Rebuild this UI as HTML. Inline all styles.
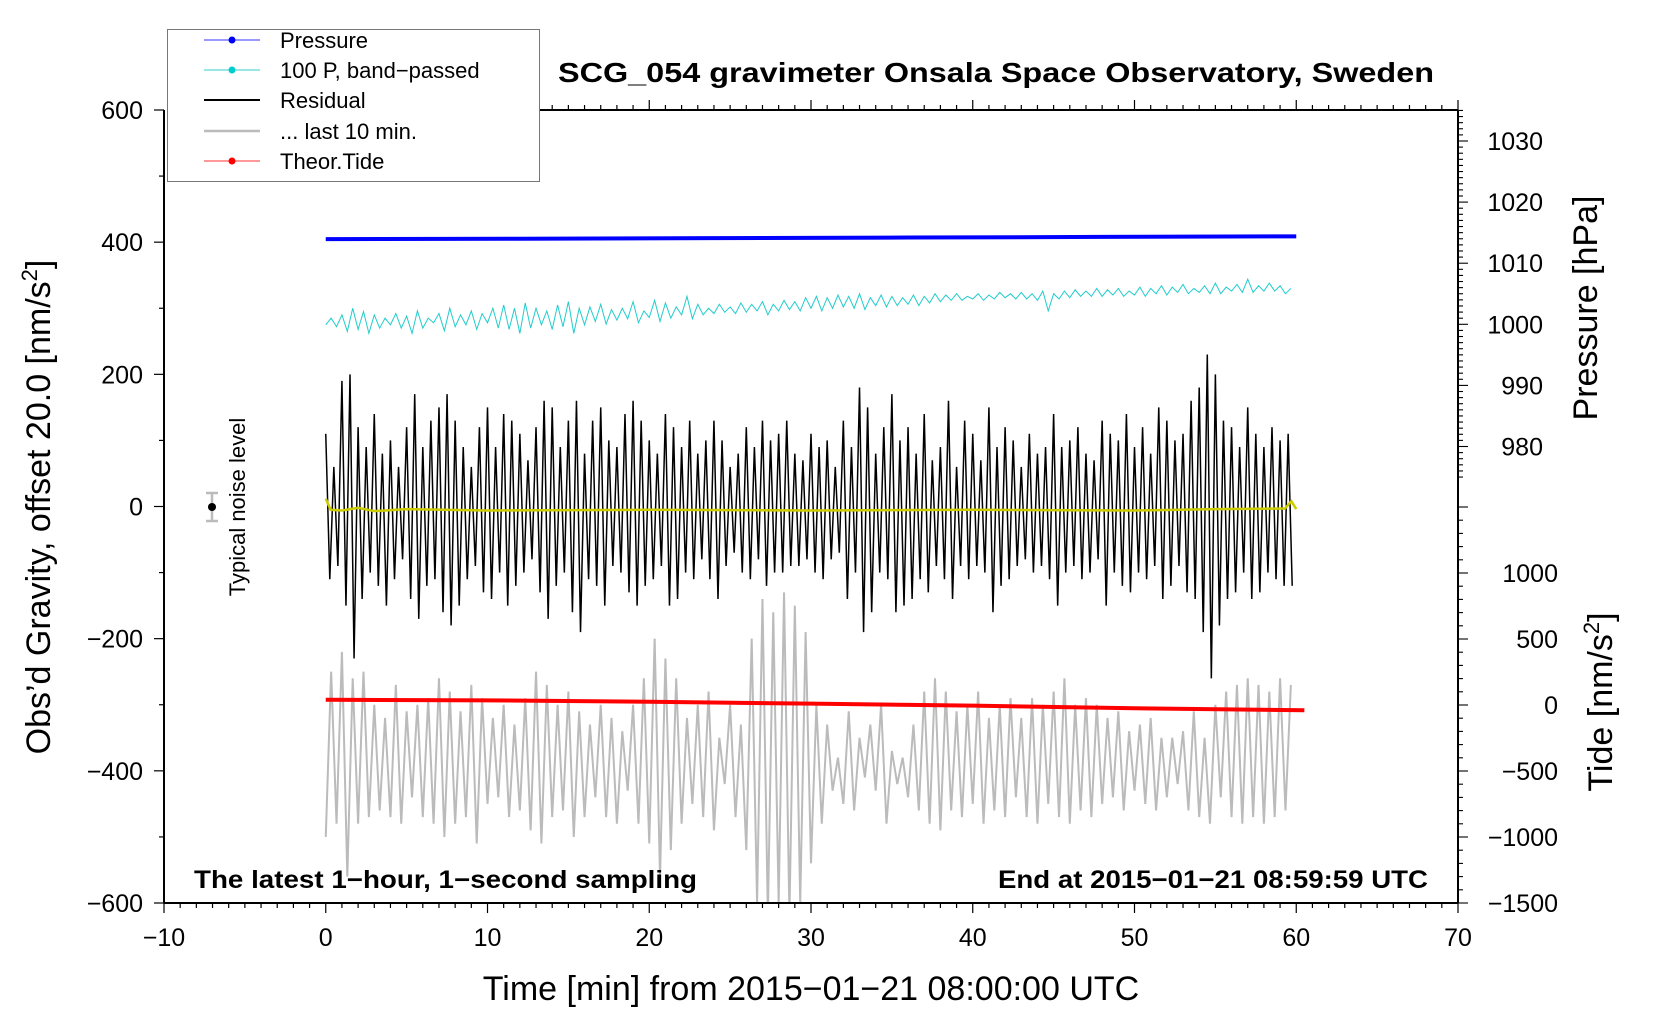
<!DOCTYPE html>
<html><head><meta charset="utf-8"><style>
html,body{margin:0;padding:0;background:#fff}
svg{display:block;font-family:"Liberation Sans",Arial,sans-serif}
</style></head><body>
<svg id="chart" width="1660" height="1020" viewBox="0 0 1660 1020" xmlns="http://www.w3.org/2000/svg">
<g id="marks"></g>
<g id="axes"></g>
<text x="996" y="82" text-anchor="middle" font-size="28" font-weight="bold" textLength="876" lengthAdjust="spacingAndGlyphs">SCG_054 gravimeter Onsala Space Observatory, Sweden</text>
<text x="194" y="888" font-size="25" font-weight="bold" textLength="503" lengthAdjust="spacingAndGlyphs">The latest 1−hour, 1−second sampling</text>
<text x="1428" y="888" text-anchor="end" font-size="25" font-weight="bold" textLength="430" lengthAdjust="spacingAndGlyphs">End at 2015−01−21 08:59:59 UTC</text>
<text x="811" y="1000" text-anchor="middle" font-size="34">Time [min] from 2015−01−21 08:00:00 UTC</text>
<text transform="translate(50,507) rotate(-90)" text-anchor="middle" font-size="34">Obs’d Gravity, offset 20.0 [nm/s<tspan font-size="22" dy="-13">2</tspan><tspan dy="13">]</tspan></text>
<text transform="translate(1597,308) rotate(-90)" text-anchor="middle" font-size="34">Pressure [hPa]</text>
<text transform="translate(1612,702) rotate(-90)" text-anchor="middle" font-size="34">Tide [nm/s<tspan font-size="22" dy="-13">2</tspan><tspan dy="13">]</tspan></text>
<g>
<line x1="212" y1="493" x2="212" y2="521" stroke="#bbb" stroke-width="2.5"/>
<line x1="206" y1="493" x2="218" y2="493" stroke="#bbb" stroke-width="2.5"/>
<line x1="206" y1="521" x2="218" y2="521" stroke="#bbb" stroke-width="2.5"/>
<circle cx="212" cy="507" r="4" fill="#000"/>
<text transform="translate(245,507) rotate(-90)" text-anchor="middle" font-size="22">Typical noise level</text>
</g>
<g id="legend">
<rect x="167.5" y="29.5" width="372" height="152" fill="#fff" stroke="#777" stroke-width="1"/>
<g><line x1="204" y1="40" x2="260" y2="40" stroke="#33f" stroke-width="1"/><circle cx="232" cy="40" r="3.5" fill="#00f"/><text x="280" y="48" font-size="22">Pressure</text></g>
<g><line x1="204" y1="70" x2="260" y2="70" stroke="#3cc" stroke-width="1"/><circle cx="232" cy="70" r="3.5" fill="#0cc"/><text x="280" y="78" font-size="22">100 P, band−passed</text></g>
<g><line x1="204" y1="100" x2="260" y2="100" stroke="#000" stroke-width="2"/><text x="280" y="108" font-size="22">Residual</text></g>
<g><line x1="204" y1="131" x2="260" y2="131" stroke="#bbb" stroke-width="2.5"/><text x="280" y="139" font-size="22">... last 10 min.</text></g>
<g><line x1="204" y1="161" x2="260" y2="161" stroke="#f33" stroke-width="1"/><circle cx="232" cy="161" r="3.5" fill="#f00"/><text x="280" y="169" font-size="22">Theor.Tide</text></g>
</g>
</svg>
<script>
// ---- data ----
const pressureMin = [0, 12, 24, 36, 48, 60];
const pressureHpa = [1013.95, 1014.0, 1014.1, 1014.2, 1014.3, 1014.4];
const tideMin = [0, 10, 20, 30, 40, 50, 60.5];
const tideVal = [40, 35, 25, 10, -5, -25, -40];
const residual = [110,-110,60,-90,190,-150,200,-230,120,-140,90,-100,140,-120,80,-150,100,-110,60,-80,120,-140,170,-170,90,-120,130,-110,150,-160,170,-180,130,-150,90,-110,60,-90,120,-130,
150,-140,90,-100,140,-150,130,-120,110,-100,70,-80,120,-130,160,-170,150,-120,90,-100,130,-160,160,-190,80,-110,130,-120,150,-150,100,-90,90,-100,140,-130,160,-150,130,-120,
100,-110,80,-90,140,-150,120,-140,90,-100,130,-110,80,-80,100,-110,130,-140,100,-90,60,-70,80,-100,120,-110,90,-80,130,-120,100,-100,110,-100,130,-90,80,-90,70,-80,
110,-100,90,-110,100,-80,60,-70,130,-140,90,-100,180,-190,150,-160,80,-100,120,-110,170,-160,100,-150,120,-140,80,-110,140,-130,70,-90,90,-110,160,-140,60,-90,130,-110,
110,-90,70,-100,150,-160,90,-120,120,-110,100,-90,60,-80,110,-100,80,-90,90,-110,140,-150,90,-100,100,-90,120,-110,80,-100,70,-80,130,-150,110,-100,100,-120,140,-130,
90,-100,120,-110,80,-90,150,-140,130,-120,100,-90,110,-130,160,-140,180,-190,230,-260,200,-180,130,-140,120,-130,90,-100,150,-140,110,-130,90,-100,120,-110,100,-120,110,-120];
const lastTen = [-500,-250,-480,-220,-560,-260,-480,-250,-470,-300,-460,-320,-470,-270,-480,-310,-440,-300,-470,-290,-480,-260,-500,-280,-480,-310,-470,-270,-510,-290,
-450,-320,-440,-300,-470,-330,-460,-290,-490,-250,-510,-270,-470,-300,-460,-280,-500,-310,-470,-330,-440,-300,-470,-320,-480,-340,-430,-300,-480,-260,
-510,-200,-560,-230,-520,-260,-480,-320,-450,-300,-470,-280,-490,-350,-420,-300,-470,-330,-520,-200,-600,-140,-620,-160,-600,-130,-620,-150,-600,-190,
-540,-300,-480,-330,-430,-380,-450,-310,-460,-350,-410,-330,-430,-300,-480,-370,-420,-380,-440,-330,-460,-280,-480,-260,-490,-280,-460,-310,-470,-300,
-450,-280,-480,-320,-460,-300,-470,-290,-440,-320,-470,-290,-480,-300,-450,-280,-470,-260,-480,-300,-460,-290,-470,-300,-450,-320,-440,-310,-460,-340,
-430,-330,-450,-320,-460,-350,-440,-350,-420,-340,-460,-310,-470,-350,-480,-300,-440,-280,-470,-270,-480,-260,-470,-270,-480,-280,-470,-260,-460,-270];
const bandPassed = [275,285,272,290,265,300,268,295,262,290,270,285,275,292,270,288,262,296,270,285,278,292,266,300,272,290,275,296,268,292,
278,300,270,305,268,300,262,308,270,300,275,296,268,305,272,310,262,300,275,302,280,306,276,298,282,300,284,310,278,296,
286,312,280,308,285,302,290,318,284,306,290,300,292,306,294,302,292,308,294,306,296,310,290,306,296,312,298,310,296,316,
300,318,296,316,300,320,302,318,300,322,298,316,304,320,302,318,304,316,306,320,304,318,308,322,310,320,312,322,312,318,
314,322,312,320,314,324,316,322,314,324,314,322,312,326,296,322,314,326,316,328,318,326,318,330,318,328,320,330,318,326,
320,332,318,330,322,334,320,332,324,336,322,330,324,334,322,338,322,332,326,336,324,344,324,334,326,338,326,334,322,330];
const yellowMin = [0, 0.3, 1, 2, 3, 5, 10, 20, 30, 40, 50, 55, 59.3, 59.7, 60];
const yellowVal = [12, -5, -6, -2, -7, -4, -6, -5, -6, -5, -6, -4, -3, 8, -4];
const xTicks = [-10, 0, 10, 20, 30, 40, 50, 60, 70];
const yTicks = [600, 400, 200, 0, -200, -400, -600];
const pTicks = [1030, 1020, 1010, 1000, 990, 980];
const tTicks = [1000, 500, 0, -500, -1000, -1500];

// ---- scales ----
const L=164, R=1458, T=110, B=903;
const xs = m => L + (m + 10) * (R - L) / 80;
const ys = v => T + (600 - v) * (B - T) / 1200;
const ps = p => 141 + (1030 - p) * 6.11;
const ts = t => 903 - (t + 1500) * (903 - 573) / 2500;
const NS = 'http://www.w3.org/2000/svg';
function mk(tag, parent, attrs) { const e = document.createElementNS(NS, tag); for (const k in attrs) e.setAttribute(k, attrs[k]); parent.appendChild(e); return e; }
const marks = document.getElementById('marks');
const axes = document.getElementById('axes');

const defs = mk('defs', marks, {});
const cp = mk('clipPath', defs, {id: 'clip'});
mk('rect', cp, {x: L, y: T, width: R - L, height: B - T});
const g = mk('g', marks, {'clip-path': 'url(#clip)'});

function series(xsArr, vals, yf, attrs, name) {
  let d = '';
  for (let i = 0; i < vals.length; i++) d += (i ? 'L' : 'M') + xs(xsArr(i)).toFixed(2) + ',' + yf(vals[i]).toFixed(2);
  const p = mk('path', g, Object.assign({d: d, fill: 'none'}, attrs));
  
  
  return p;
}
series(i => i * 60 / lastTen.length, lastTen, ys, {stroke: '#bbb', 'stroke-width': 2}, 'last-10-min-line');
series(i => i * 60 / residual.length, residual, ys, {stroke: '#000', 'stroke-width': 1.5}, 'residual-line');
series(i => yellowMin[i], yellowVal, ys, {stroke: '#cc0', 'stroke-width': 2.5}, 'residual-smoothed-line');
series(i => i * 60 / bandPassed.length, bandPassed, ys, {stroke: '#2cc', 'stroke-width': 1}, 'bandpassed-pressure-line');
series(i => pressureMin[i], pressureHpa, ps, {stroke: '#00f', 'stroke-width': 4}, 'pressure-line');
series(i => tideMin[i], tideVal, ts, {stroke: '#f00', 'stroke-width': 4}, 'tide-line');

const fr = mk('g', axes, {stroke: '#000', fill: 'none'});
mk('line', fr, {x1: L, y1: T, x2: L, y2: B, 'stroke-width': 2});
mk('line', fr, {x1: L, y1: B, x2: R, y2: B, 'stroke-width': 2});
mk('line', fr, {x1: R, y1: T, x2: R, y2: B, 'stroke-width': 2});
mk('line', fr, {x1: 540, y1: T, x2: R, y2: T, 'stroke-width': 2});
for (let m = -10; m <= 70; m++) {
  const major = m % 10 === 0;
  mk('line', fr, {x1: xs(m), y1: B, x2: xs(m), y2: B + (major ? 10 : 5), 'stroke-width': 1.2});
  if (xs(m) > 541) mk('line', fr, {x1: xs(m), y1: T, x2: xs(m), y2: T - (major ? 10 : 5), 'stroke-width': 1.2});
}
for (const t of xTicks) {
  const e = mk('text', axes, {x: xs(t), y: 946, 'text-anchor': 'middle', 'font-size': 25});
  e.textContent = String(t).replace('-', '−');
  
  
}
for (let v = -600; v <= 600; v += 100) {
  mk('line', fr, {x1: L, y1: ys(v), x2: L - (v % 200 === 0 ? 10 : 5), y2: ys(v), 'stroke-width': 1.2});
}
for (const v of yTicks) {
  const e = mk('text', axes, {x: 143, y: ys(v) + 9, 'text-anchor': 'end', 'font-size': 25});
  e.textContent = String(v).replace('-', '−');
  
  
}
for (let p = 1035; p >= 975; p--) {
  const y = ps(p);
  if (y < T || y > 480) continue;
  mk('line', fr, {x1: R, y1: y, x2: R + (p % 10 === 0 ? 10 : 5), y2: y, 'stroke-width': 1.1});
}
for (const p of pTicks) {
  const e = mk('text', axes, {x: 1543, y: ps(p) + 9, 'text-anchor': 'end', 'font-size': 25});
  e.textContent = String(p);
  
  
}
for (let t = -1500; t <= 1500; t += 100) {
  const y = ts(t);
  if (y < 482 || y > B) continue;
  mk('line', fr, {x1: R, y1: y, x2: R + (t % 500 === 0 ? 10 : 5), y2: y, 'stroke-width': 1.1});
}
for (const t of tTicks) {
  const e = mk('text', axes, {x: 1558, y: ts(t) + 9, 'text-anchor': 'end', 'font-size': 25});
  e.textContent = String(t).replace('-', '−');
  
  
}
</script>
</body></html>
